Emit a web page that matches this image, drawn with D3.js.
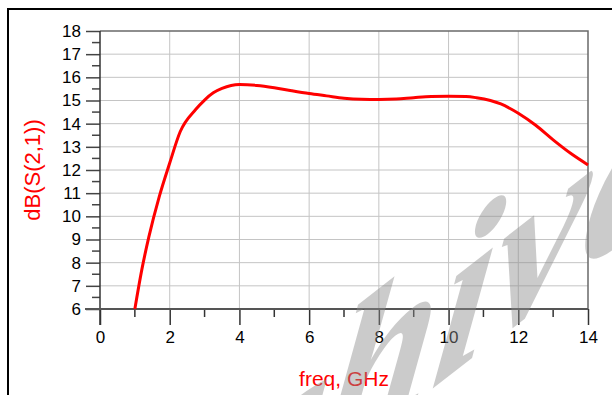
<!DOCTYPE html>
<html>
<head>
<meta charset="utf-8">
<script src="https://cdn.jsdelivr.net/npm/d3@7"></script>
<style>
  html, body { margin: 0; padding: 0; background: #fff; }
  svg { display: block; font-family: "Liberation Sans", Arial, sans-serif; }
</style>
</head>
<body>
<svg id="chart" width="612" height="395"></svg>
<script>
// S21 sweep
const freqGHz = [1.0, 1.2, 1.4, 1.7, 2.0, 2.3, 2.75, 3.0, 3.25, 3.5, 4.0, 4.5, 5.0, 5.5, 6.0, 6.5,
    7.0, 7.5, 8.0, 8.5, 9.0, 9.5, 10.0, 10.5, 10.8, 11.2, 11.5, 12.0, 12.5, 13.0, 13.5, 14.0];
const dbS21 = [6.0, 7.7, 9.1, 10.85, 12.3, 13.65, 14.62, 15.02, 15.33, 15.52, 15.69, 15.65, 15.55, 15.42, 15.3, 15.2,
    15.1, 15.05, 15.04, 15.06, 15.12, 15.17, 15.18, 15.17, 15.12, 15.0, 14.85, 14.45, 13.93, 13.3, 12.72, 12.22];

const xMajor = [0, 2, 4, 6, 8, 10, 12, 14];
const xMinor = [1, 3, 5, 7, 9, 11, 13];
const yMajor = [6, 7, 8, 9, 10, 11, 12, 13, 14, 15, 16, 17, 18];
const yMinor = [6.5, 7.5, 8.5, 9.5, 10.5, 11.5, 12.5, 13.5, 14.5, 15.5, 16.5, 17.5];

const plot = {left: 100, right: 588, top: 31, bottom: 309};

const svg = d3.select('#chart');

const x = d3.scaleLinear().domain([0, 14]).range([plot.left, plot.right]);
const y = d3.scaleLinear().domain([6, 18]).range([plot.bottom, plot.top]);

// outer frame (only top and left edges are inside the picture)
svg.append('path')
    .attr('d', 'M8,395V9H612')
    .attr('fill', 'none')
    .attr('stroke', '#000')
    .attr('stroke-width', 2);

// grid
const grid = svg.append('g').attr('stroke', '#c4c4c4').attr('stroke-width', 1);
grid.selectAll('.gx').data(xMajor.slice(1, -1)).enter().append('line')
    .attr('x1', d => x(d)).attr('x2', d => x(d))
    .attr('y1', plot.top).attr('y2', plot.bottom);
grid.selectAll('.gy').data(yMajor.slice(1, -1)).enter().append('line')
    .attr('x1', plot.left).attr('x2', plot.right)
    .attr('y1', d => y(d)).attr('y2', d => y(d));

// plot border top/right
svg.append('path')
    .attr('d', `M${plot.left},${plot.top}H${plot.right}V${plot.bottom}`)
    .attr('fill', 'none')
    .attr('stroke', '#6a6a6a')
    .attr('stroke-width', 1.5);

// y axis
const yAxis = svg.append('g')
    .attr('transform', `translate(${plot.left},0)`)
    .call(d3.axisLeft(y).tickValues(yMajor).tickSize(14).tickPadding(5).tickFormat(d3.format('d')));
yAxis.select('.domain').remove();
yAxis.selectAll('.tick line').attr('stroke', '#444').attr('stroke-width', 1.5);
yAxis.selectAll('.tick text').attr('font-size', 17).attr('fill', '#000')
    .attr('font-family', '"Liberation Sans", Arial, sans-serif');
yAxis.selectAll('.minor').data(yMinor).enter().append('line')
    .attr('x1', -8).attr('x2', 0)
    .attr('y1', d => y(d)).attr('y2', d => y(d))
    .attr('stroke', '#444').attr('stroke-width', 1.5);
yAxis.append('line')
    .attr('x1', 0).attr('x2', 0)
    .attr('y1', plot.top).attr('y2', plot.bottom + 16)
    .attr('stroke', '#333').attr('stroke-width', 1.5);

// x axis
const xAxis = svg.append('g')
    .attr('transform', `translate(0,${plot.bottom})`)
    .call(d3.axisBottom(x).tickValues(xMajor).tickSize(16).tickPadding(6).tickFormat(d3.format('d')));
xAxis.select('.domain').remove();
xAxis.selectAll('.tick line').attr('stroke', '#333').attr('stroke-width', 1.5);
xAxis.selectAll('.tick text').attr('font-size', 17).attr('fill', '#000')
    .attr('font-family', '"Liberation Sans", Arial, sans-serif');
xAxis.selectAll('.minor').data(xMinor).enter().append('line')
    .attr('x1', d => x(d)).attr('x2', d => x(d))
    .attr('y1', 0).attr('y2', 8)
    .attr('stroke', '#333').attr('stroke-width', 1.5);
xAxis.append('line')
    .attr('x1', plot.left - 15).attr('x2', plot.right)
    .attr('y1', 0).attr('y2', 0)
    .attr('stroke', '#555').attr('stroke-width', 2);

// trace
const line = d3.line()
    .x((d, i) => x(freqGHz[i]))
    .y(d => y(d))
    .curve(d3.curveMonotoneX);

svg.append('path')
    .datum(dbS21)
    .attr('d', line)
    .attr('fill', 'none')
    .attr('stroke', '#ff0000')
    .attr('stroke-width', 3)
    .attr('stroke-linejoin', 'round');

// axis titles
svg.append('text')
    .attr('x', (plot.left + plot.right) / 2)
    .attr('y', 386)
    .attr('text-anchor', 'middle')
    .attr('font-size', 21)
    .attr('fill', '#ff0000')
    .text('freq, GHz');

svg.append('text')
    .attr('transform', `translate(40,${(plot.top + plot.bottom) / 2}) rotate(-90)`)
    .attr('text-anchor', 'middle')
    .attr('font-size', 22)
    .attr('fill', '#ff0000')
    .text('dB(S(2,1))');

// watermark
svg.append('text')
    .attr('transform', 'translate(6,722) skewY(-38) skewX(-10)')
    .attr('font-family', '"Liberation Serif", serif')
    .attr('font-style', 'italic')
    .attr('font-weight', 'bold')
    .attr('font-size', 205)
    .attr('fill', '#8c8c8c')
    .attr('fill-opacity', 0.45)
    .text('Archive');
</script>
</body>
</html>
